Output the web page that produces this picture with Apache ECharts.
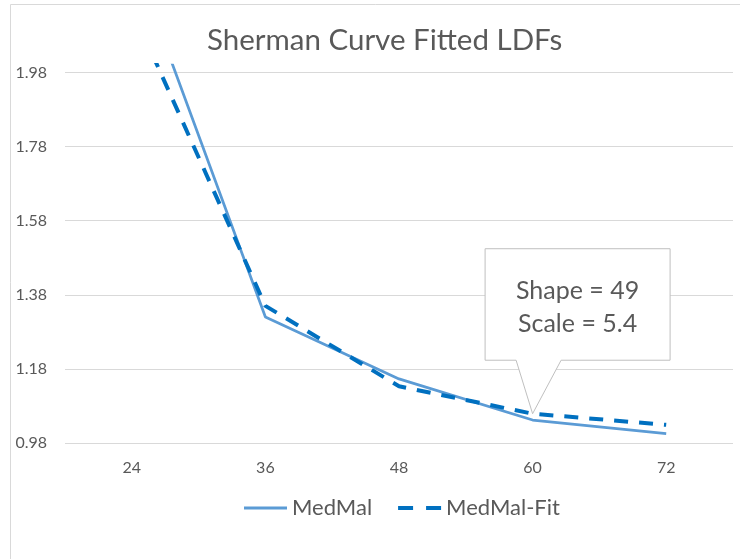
<!DOCTYPE html>
<html><head><meta charset="utf-8">
<script src="https://cdn.jsdelivr.net/npm/echarts@6/dist/echarts.min.js"></script>
<style>html,body{margin:0;padding:0;background:#fff}#c{width:740px;height:559px}</style>
</head><body><div id="c"></div>
<script>
const categories = ['24', '36', '48', '60', '72'];
const medMal = [2.30, 1.32, 1.153, 1.042, 1.005];
const medMalFit = [2.152, 1.35, 1.133, 1.059, 1.029];
const yTicks = [0.98, 1.18, 1.38, 1.58, 1.78, 1.98];
const calloutLines = ['Shape = 49', 'Scale = 5.4'];
const calloutIndex = 3;

const FONT = 'Lato';
const chart = echarts.init(document.getElementById('c'));
chart.setOption({
  animation: false,
  textStyle: { fontFamily: FONT },
  title: {
    text: 'Sherman Curve Fitted LDFs', left: 202, top: 20,
    textStyle: { fontFamily: FONT, fontSize: 29.5, fontWeight: 'normal', color: '#595959' }
  },
  grid: { left: 65, right: 7, top: 65, bottom: 116 },
  legend: {
    bottom: 35, left: 239, itemWidth: 43, itemHeight: 4, itemGap: 26,
    textStyle: { fontFamily: FONT, fontSize: 22, color: '#595959' },
    data: [
      { name: 'MedMal', icon: 'path://M0,0h43v3h-43z', itemStyle: { color: '#5B9BD5' } },
      { name: 'MedMal-Fit', icon: 'path://M0,0h15v4h-15zM28,0h15v4h-15z', itemStyle: { color: '#0070C0' } }
    ]
  },
  xAxis: {
    type: 'category', data: categories, boundaryGap: true,
    axisLine: { show: false }, axisTick: { show: false },
    axisLabel: { fontFamily: FONT, fontSize: 16, color: '#595959', margin: 17 }
  },
  yAxis: {
    type: 'value', min: 0.98, max: 2.0,
    axisLine: { show: false },
    axisTick: { show: false, customValues: yTicks },
    axisLabel: { customValues: yTicks, fontFamily: FONT, fontSize: 16, color: '#595959', margin: 18,
      formatter: v => v.toFixed(2) },
    splitLine: { lineStyle: { color: '#D9D9D9', width: 1 } }
  },
  series: [
    { name: 'MedMal', type: 'line', data: medMal, symbol: 'none', clip: true,
      lineStyle: { color: '#5B9BD5', width: 2.75 }, itemStyle: { color: '#5B9BD5' } },
    { name: 'MedMal-Fit', type: 'line', data: medMalFit, symbol: 'none', clip: true,
      lineStyle: { color: '#0070C0', width: 4, type: [14, 11] }, itemStyle: { color: '#0070C0' } }
  ]
});

const tip = chart.convertToPixel({ seriesIndex: 1 }, [calloutIndex, medMalFit[calloutIndex]]);
const tx = tip[0], ty = tip[1];
chart.setOption({
  graphic: [
    { type: 'rect', shape: { x: 10.5, y: 4.5, width: 800, height: 700 }, style: { fill: 'none', stroke: '#D9D9D9', lineWidth: 1 }, silent: true, z: -1 },
    { type: 'polygon', shape: { points: [
        [tx - 47.5, ty - 165], [tx + 137.5, ty - 165], [tx + 137.5, ty - 53.5],
        [tx + 28.5, ty - 53.5], [tx, ty], [tx - 16.5, ty - 53.5], [tx - 47.5, ty - 53.5]
      ] }, style: { fill: '#fff', stroke: '#BFBFBF', lineWidth: 1 }, z: 10 },
    { type: 'text', x: tx + 45, y: ty - 123, style: { text: calloutLines[0], fontFamily: FONT, fontSize: 25, fill: '#595959', align: 'center', verticalAlign: 'middle' }, z: 11 },
    { type: 'text', x: tx + 45, y: ty - 90, style: { text: calloutLines[1], fontFamily: FONT, fontSize: 25, fill: '#595959', align: 'center', verticalAlign: 'middle' }, z: 11 }
  ]
});
</script></body></html>
